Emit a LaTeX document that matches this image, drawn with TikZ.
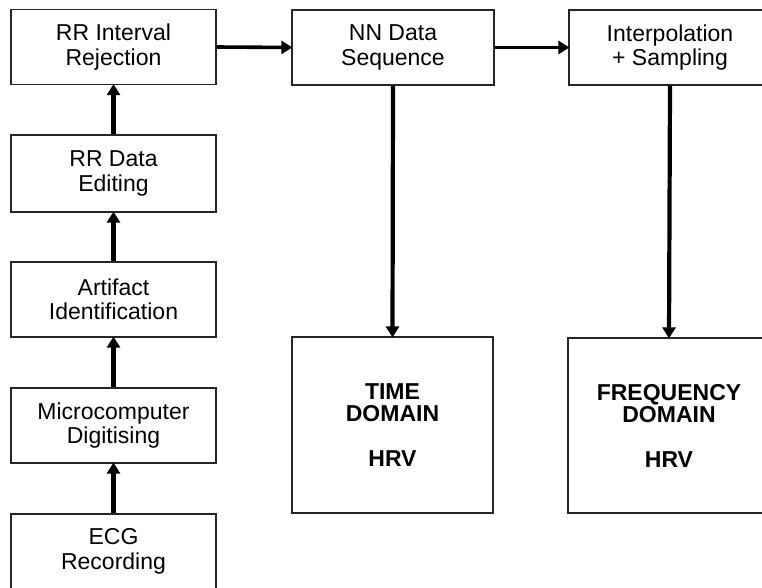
\documentclass[tikz,border=0pt]{standalone}
\usepackage{fontspec}
\setmainfont{Liberation Sans}
\usetikzlibrary{arrows.meta}
\tikzset{
  box/.style={draw=black!85, line width=1.2pt, rectangle, inner sep=0pt,
    align=center, font=\fontsize{23}{24.5}\selectfont},
  bigbox/.style={box, font=\fontsize{23}{22}\selectfont\bfseries},
  flow/.style={line width=4.2pt, draw=black,
    -{Triangle[length=11pt,width=13pt]}, shorten >=-1pt},
  hflow/.style={flow, line width=3.6pt}
}
\begin{document}
\begin{tikzpicture}[x=1pt, y=-1pt]
\useasboundingbox (0,0) rectangle (762,588);
\clip (0,0) rectangle (762,588);
% left column: acquisition chain
\node[box, minimum width=205pt, minimum height=75pt] (rej) at (113.5,47) {RR Interval\\Rejection};
\node[box, minimum width=205pt, minimum height=77pt] (edit) at (113.5,173.5) {RR Data\\Editing};
\node[box, minimum width=205pt, minimum height=75pt] (art) at (113.5,299.5) {Artifact\\Identification};
\node[box, minimum width=205pt, minimum height=75pt] (dig) at (113.5,425.5) {Microcomputer\\Digitising};
\node[box, minimum width=205pt, minimum height=75pt] (ecg) at (113.5,551.5) {ECG\\Recording};
% top row
\node[box, minimum width=202pt, minimum height=75pt] (nn) at (393,47.5) {NN Data\\Sequence};
\node[box, minimum width=202pt, minimum height=75pt] (interp) at (670,47.5) {Interpolation\\+ Sampling};
% analysis domains
\node[bigbox, minimum width=201pt, minimum height=176pt] (time) at (392.5,425) {TIME\\DOMAIN\\[23pt]HRV};
\node[bigbox, minimum width=202pt, minimum height=175pt] (freq) at (669,425.5) {FREQUENCY\\DOMAIN\\[23pt]HRV};
% connectors
\draw[flow] (ecg.north) -- (dig.south);
\draw[flow] (dig.north) -- (art.south);
\draw[flow] (art.north) -- (edit.south);
\draw[flow] (edit.north) -- (rej.south);
\draw[hflow] (rej.east) -- (nn.west);
\draw[hflow] (nn.east) -- (interp.west);
\draw[flow] (nn.south) -- (time.north);
\draw[flow] (interp.south) -- (freq.north);
\end{tikzpicture}
\end{document}
